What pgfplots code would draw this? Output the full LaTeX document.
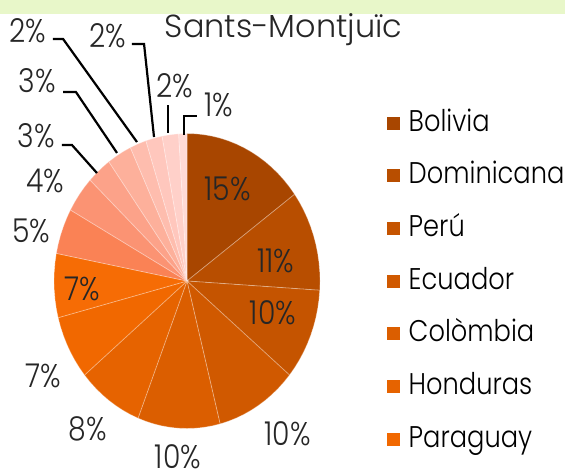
\documentclass[border=0pt]{standalone}
\usepackage{pgfplots}
\pgfplotsset{compat=1.18}
\usepackage{fontspec}
\setmainfont{Poppins}[UprightFont=* Light, FakeStretch=0.86]
\newfontfamily\titlefont{Poppins}[UprightFont=* Light]
\definecolor{band}{RGB}{232,247,201}
\definecolor{c1}{RGB}{168,70,0}
\definecolor{c2}{RGB}{184,78,0}
\definecolor{c3}{RGB}{197,84,0}
\definecolor{c4}{RGB}{208,89,0}
\definecolor{c5}{RGB}{219,94,0}
\definecolor{c6}{RGB}{230,99,0}
\definecolor{c7}{RGB}{241,104,0}
\definecolor{c8}{RGB}{246,108,5}
\definecolor{c9}{RGB}{250,130,85}
\definecolor{c10}{RGB}{251,147,115}
\definecolor{c11}{RGB}{252,162,137}
\definecolor{c12}{RGB}{253,176,155}
\definecolor{c13}{RGB}{254,189,174}
\definecolor{c14}{RGB}{255,199,189}
\definecolor{c15}{RGB}{255,208,201}
\definecolor{c16}{RGB}{255,218,214}
\newcommand{\lbl}{\fontsize{33}{35}\selectfont}
\begin{document}
\begin{tikzpicture}
\useasboundingbox (0,0) rectangle (565bp,471bp);
\fill[band] (0,457bp) rectangle (565bp,471bp);
\begin{axis}[at={(0,0)}, anchor=south west, scale only axis,
  width=565bp, height=471bp,
  xmin=-1.406, xmax=2.842, ymin=-1.288, ymax=1.905,
  hide axis, clip=false,
  slice/.style={draw=white, draw opacity=0.3, line width=0.8bp, data cs=polar},
  legend style={at={(axis cs:1.504,1.156)}, anchor=north west, draw=none, fill=none,
    font=\fontsize{30}{32}\selectfont, row sep=27.7bp, inner sep=0pt,
    nodes={inner sep=0.5bp, text height=20bp, text depth=4bp}, column sep=8bp},
  legend cell align=left,
  legend image code/.code={\fill[#1,draw=none] (0bp,-6.5bp) rectangle (13bp,6.5bp);},
]
% shares (%): Bolivia 15, Dominicana 11, Peru 10, Ecuador 10, Colombia 10, Honduras 8, Paraguay 7,
% then 7, 5, 4, 3, 3, 2, 2, 2, 1 ; slices drawn clockwise from the top, 3.6 degrees per percent
\addplot[slice, fill=c1] coordinates {(0,0) (90,1) (86.4,1) (82.8,1) (79.2,1) (75.6,1) (72,1) (68.4,1) (64.8,1) (61.2,1) (57.6,1) (54,1) (50.4,1) (46.8,1) (43.2,1) (39.6,1) (36,1)} -- cycle;
\addlegendentry{Bolivia}
\addplot[slice, fill=c2] coordinates {(0,0) (36,1) (32.4,1) (28.8,1) (25.2,1) (21.6,1) (18,1) (14.4,1) (10.8,1) (7.2,1) (3.6,1) (0,1) (-3.6,1)} -- cycle;
\addlegendentry{Dominicana}
\addplot[slice, fill=c3] coordinates {(0,0) (-3.6,1) (-7.2,1) (-10.8,1) (-14.4,1) (-18,1) (-21.6,1) (-25.2,1) (-28.8,1) (-32.4,1) (-36,1) (-39.6,1)} -- cycle;
\addlegendentry{Perú}
\addplot[slice, fill=c4] coordinates {(0,0) (-39.6,1) (-43.2,1) (-46.8,1) (-50.4,1) (-54,1) (-57.6,1) (-61.2,1) (-64.8,1) (-68.4,1) (-72,1) (-75.6,1)} -- cycle;
\addlegendentry{Ecuador}
\addplot[slice, fill=c5] coordinates {(0,0) (-75.6,1) (-79.2,1) (-82.8,1) (-86.4,1) (-90,1) (-93.6,1) (-97.2,1) (-100.8,1) (-104.4,1) (-108,1) (-111.6,1)} -- cycle;
\addlegendentry{Colòmbia}
\addplot[slice, fill=c6] coordinates {(0,0) (-111.6,1) (-115.2,1) (-118.8,1) (-122.4,1) (-126,1) (-129.6,1) (-133.2,1) (-136.8,1) (-140.4,1)} -- cycle;
\addlegendentry{Honduras}
\addplot[slice, fill=c7] coordinates {(0,0) (-140.4,1) (-144,1) (-147.6,1) (-151.2,1) (-154.8,1) (-158.4,1) (-162,1) (-165.6,1)} -- cycle;
\addlegendentry{Paraguay}
\addplot[slice, fill=c8, forget plot] coordinates {(0,0) (-165.6,1) (-169.2,1) (-172.8,1) (-176.4,1) (-180,1) (-183.6,1) (-187.2,1) (-190.8,1)} -- cycle;
\addplot[slice, fill=c9, forget plot] coordinates {(0,0) (-190.8,1) (-194.4,1) (-198,1) (-201.6,1) (-205.2,1) (-208.8,1)} -- cycle;
\addplot[slice, fill=c10, forget plot] coordinates {(0,0) (-208.8,1) (-212.4,1) (-216,1) (-219.6,1) (-223.2,1)} -- cycle;
\addplot[slice, fill=c11, forget plot] coordinates {(0,0) (-223.2,1) (-226.8,1) (-230.4,1) (-234,1)} -- cycle;
\addplot[slice, fill=c12, forget plot] coordinates {(0,0) (-234,1) (-237.6,1) (-241.2,1) (-244.8,1)} -- cycle;
\addplot[slice, fill=c13, forget plot] coordinates {(0,0) (-244.8,1) (-248.4,1) (-252,1)} -- cycle;
\addplot[slice, fill=c14, forget plot] coordinates {(0,0) (-252,1) (-255.6,1) (-259.2,1)} -- cycle;
\addplot[slice, fill=c15, forget plot] coordinates {(0,0) (-259.2,1) (-262.8,1) (-266.4,1)} -- cycle;
\addplot[slice, fill=c16, forget plot] coordinates {(0,0) (-266.4,1) (-270,1)} -- cycle;
% leader lines
\addplot[black, line width=2.2bp, forget plot] coordinates {(-1.008,1.641) (-0.932,1.641) (-0.376,0.942)};
\addplot[black, line width=2.2bp, forget plot] coordinates {(-0.414,1.607) (-0.323,1.607) (-0.248,0.976)};
\addplot[black, line width=2.2bp, forget plot] coordinates {(-0.932,1.281) (-0.835,1.281) (-0.526,0.868)};
\addplot[black, line width=2.2bp, forget plot] coordinates {(-0.940,0.922) (-0.865,0.922) (-0.677,0.732)};
\addplot[black, line width=2.2bp, forget plot] coordinates {(-0.143,1.193) (-0.143,1.003)};
\addplot[black, line width=2.2bp, forget plot] coordinates {(0.075,1.119) (-0.023,1.119) (-0.023,0.990)};
% labels
\begin{scope}[every node/.style={anchor=base, inner sep=0pt, font=\lbl, text=black!85}]
\node at (axis cs:0.304,0.549) {15\%};
\node at (axis cs:0.669,0.061) {11\%};
\node at (axis cs:0.647,-0.298) {10\%};
\node at (axis cs:0.756,-1.112) {10\%};
\node at (axis cs:-0.068,-1.268) {10\%};
\node at (axis cs:-0.748,-1.078) {8\%};
\node at (axis cs:-1.079,-0.725) {7\%};
\node at (axis cs:-0.786,-0.129) {7\%};
\node at (axis cs:-1.169,0.258) {5\%};
\node at (axis cs:-1.068,0.597) {4\%};
\node at (axis cs:-1.132,0.908) {3\%};
\node at (axis cs:-1.124,1.275) {3\%};
\node at (axis cs:-1.199,1.620) {2\%};
\node at (axis cs:-0.598,1.586) {2\%};
\node at (axis cs:-0.090,1.241) {2\%};
\node at (axis cs:0.241,1.112) {1\%};
\end{scope}
\node[anchor=base, inner sep=0pt, font=\titlefont\fontsize{32}{34}\selectfont, text=black!85] at (axis cs:0.726,1.654) {Sants-Montjuïc};
\end{axis}
\end{tikzpicture}
\end{document}
